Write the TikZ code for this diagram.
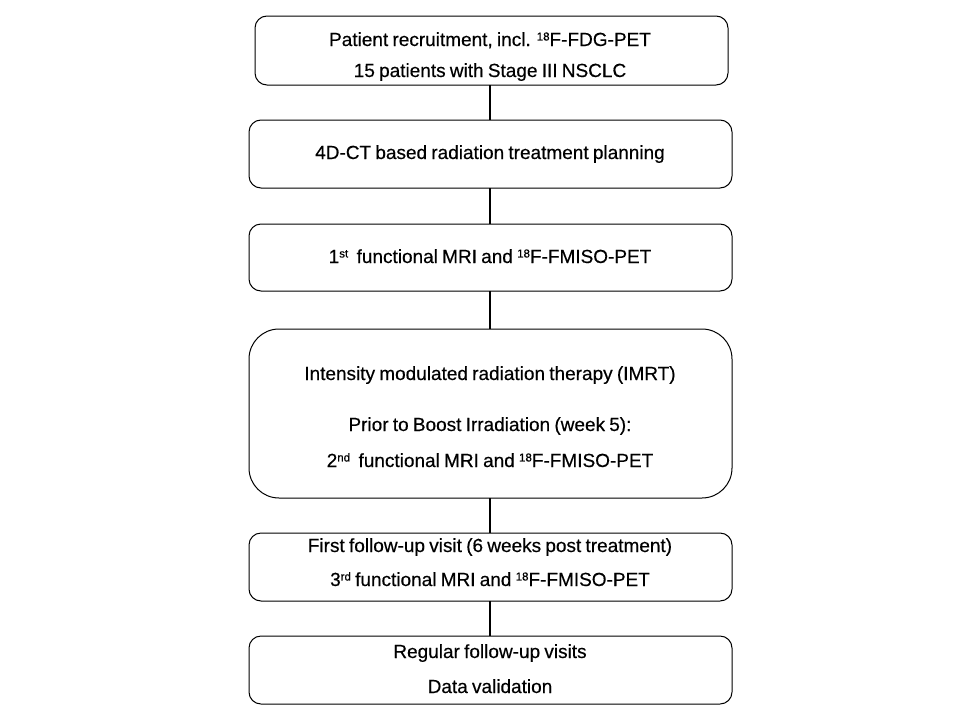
\documentclass[tikz,border=0pt]{standalone}
\usepackage{fontspec}
\setmainfont{Liberation Sans}[WordSpace=0.8,FakeBold=0.4]
\newcommand{\mysup}[1]{\raisebox{0.55ex}{\fontsize{11.5}{11.5}\selectfont #1}}
\begin{document}
\begin{tikzpicture}[x=1pt,y=-1pt,
  box/.style={draw=black,line width=1pt,rounded corners=12pt,fill=white},
  bigbox/.style={draw=black,line width=1pt,rounded corners=30pt,fill=white},
  txt/.style={anchor=base,inner sep=0pt,font=\fontsize{19}{21}\selectfont},
  link/.style={line width=2.8pt}]
\useasboundingbox (0,0) rectangle (960,720);
\coordinate (b1tl) at (255,16);   \coordinate (b1br) at (728,85);
\coordinate (b2tl) at (249,120);  \coordinate (b2br) at (732,188);
\coordinate (b3tl) at (249,224);  \coordinate (b3br) at (732,291);
\coordinate (b4tl) at (249,329);  \coordinate (b4br) at (732,498);
\coordinate (b5tl) at (249,533);  \coordinate (b5br) at (732,601);
\coordinate (b6tl) at (249,636);  \coordinate (b6br) at (732,704);
\draw[box] (b1tl) rectangle (b1br);
\draw[box] (b2tl) rectangle (b2br);
\draw[box] (b3tl) rectangle (b3br);
\draw[bigbox] (b4tl) rectangle (b4br);
\draw[box] (b5tl) rectangle (b5br);
\draw[box] (b6tl) rectangle (b6br);
\coordinate (c1a) at (490,85);  \coordinate (c1b) at (490,120);
\coordinate (c2a) at (490,188); \coordinate (c2b) at (490,224);
\coordinate (c3a) at (490,291); \coordinate (c3b) at (490,329);
\coordinate (c4a) at (490,498); \coordinate (c4b) at (490,533);
\coordinate (c5a) at (490,601); \coordinate (c5b) at (490,636);
\draw[link] (c1a) -- (c1b);
\draw[link] (c2a) -- (c2b);
\draw[link] (c3a) -- (c3b);
\draw[link] (c4a) -- (c4b);
\draw[link] (c5a) -- (c5b);
\node[txt] (t1a) at (490,46) {Patient recruitment, incl. \mysup{18}F-FDG-PET};
\node[txt] (t1b) at (490,77) {15 patients with Stage III NSCLC};
\node[txt] (t2) at (490,159) {4D-CT based radiation treatment planning};
\node[txt] (t3) at (490,263) {1\mysup{st}\ \ functional MRI and \mysup{18}F-FMISO-PET};
\node[txt] (t4a) at (490,380) {Intensity modulated radiation therapy (IMRT)};
\node[txt] (t4b) at (490,431) {Prior to Boost Irradiation (week 5):};
\node[txt] (t4c) at (490,467) {2\mysup{nd}\ \ functional MRI and \mysup{18}F-FMISO-PET};
\node[txt] (t5a) at (490,552) {First follow-up visit (6 weeks post treatment)};
\node[txt] (t5b) at (490,586) {3\mysup{rd} functional MRI and \mysup{18}F-FMISO-PET};
\node[txt] (t6a) at (490,658) {Regular follow-up visits};
\node[txt] (t6b) at (490,693) {Data validation};
\end{tikzpicture}
\end{document}
